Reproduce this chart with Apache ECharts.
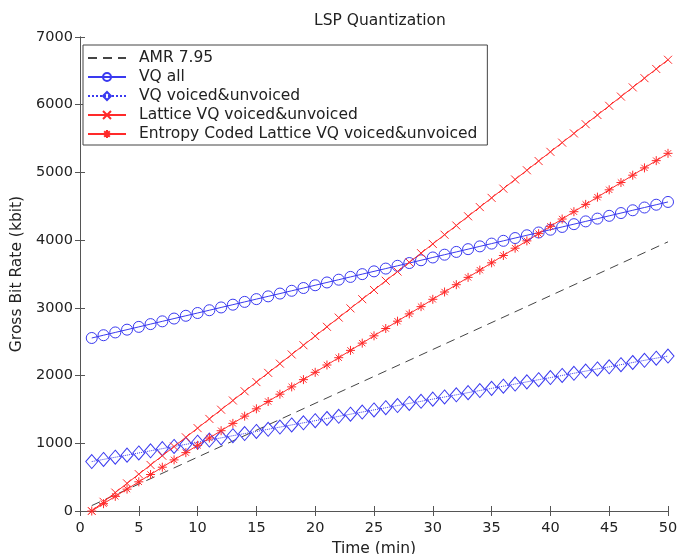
<!DOCTYPE html>
<html>
<head>
<meta charset="utf-8">
<script src="https://cdn.jsdelivr.net/npm/echarts@6/dist/echarts.min.js"></script>
<style>
  html, body { margin: 0; padding: 0; background: #fff; }
  #lspChart { width: 679px; height: 554px; }
</style>
</head>
<body>
<div id="lspChart"></div>
<script>
// 时间轴 (min)
const minutes = [1, 2, 3, 4, 5, 6, 7, 8, 9, 10, 11, 12, 13, 14, 15, 16, 17, 18, 19, 20,
  21, 22, 23, 24, 25, 26, 27, 28, 29, 30, 31, 32, 33, 34, 35, 36, 37, 38, 39, 40,
  41, 42, 43, 44, 45, 46, 47, 48, 49, 50];

// AMR 7.95 reference line (two ends of the dashed line)
const amrMinutes = [1, 50];
const amrRate = [80, 3975];

const vqAll = [2555, 2596, 2637, 2678, 2719, 2760, 2801, 2842, 2883, 2924,
  2965, 3006, 3047, 3088, 3129, 3170, 3211, 3252, 3293, 3334,
  3375, 3416, 3457, 3498, 3539, 3580, 3621, 3662, 3703, 3744,
  3785, 3826, 3867, 3908, 3949, 3990, 4031, 4072, 4113, 4154,
  4195, 4236, 4277, 4318, 4359, 4400, 4441, 4482, 4523, 4564];

const vqVoiced = [730, 762, 794, 825, 857, 889, 921, 953, 984, 1016,
  1048, 1080, 1112, 1143, 1175, 1207, 1239, 1271, 1302, 1334,
  1366, 1398, 1430, 1461, 1493, 1525, 1557, 1589, 1620, 1652,
  1684, 1716, 1748, 1779, 1811, 1843, 1875, 1907, 1939, 1970,
  2002, 2034, 2066, 2098, 2129, 2161, 2193, 2225, 2257, 2288];

const latticeVq = [0, 136, 272, 408, 544, 680, 816, 952, 1088, 1224,
  1360, 1496, 1632, 1768, 1904, 2040, 2176, 2312, 2448, 2584,
  2720, 2856, 2992, 3128, 3264, 3400, 3536, 3672, 3808, 3944,
  4080, 4216, 4352, 4488, 4624, 4760, 4896, 5032, 5168, 5304,
  5440, 5576, 5712, 5848, 5984, 6120, 6256, 6392, 6528, 6664];

const entropyLattice = [0, 108, 216, 323, 431, 539, 647, 755, 862, 970,
  1078, 1186, 1294, 1401, 1509, 1617, 1725, 1833, 1940, 2048,
  2156, 2264, 2372, 2479, 2587, 2695, 2803, 2911, 3018, 3126,
  3234, 3342, 3450, 3557, 3665, 3773, 3881, 3989, 4096, 4204,
  4312, 4420, 4528, 4635, 4743, 4851, 4959, 5067, 5174, 5282];

const seriesNames = [
  "AMR 7.95",
  "VQ all",
  "VQ voiced&unvoiced",
  "Lattice VQ voiced&unvoiced",
  "Entropy Coded Lattice VQ voiced&unvoiced"
];

const blue = "#3a3af0";
const red = "#ff2a2a";
const font = "DejaVu Sans";

function pairs(xs, ys) {
  return xs.map((x, i) => [x, ys[i]]);
}

const crossPath = "path://M0,0L10,10M10,0L0,10";
const starPath = "path://M5,0L5,10M0,5L10,5M1.5,1.5L8.5,8.5M8.5,1.5L1.5,8.5";

const hiddenAxis = {
  axisLabel: { show: false },
  axisTick: { inside: true, length: 5, lineStyle: { color: "#555" } },
  axisLine: { lineStyle: { color: "#555", width: 1 } },
  splitLine: { show: false }
};

const option = {
  backgroundColor: "#fff",
  animation: false,
  textStyle: { fontFamily: font },
  title: {
    text: "LSP Quantization",
    left: 375,
    textAlign: "center",
    top: 8,
    textStyle: { fontSize: 15.5, fontWeight: "normal", color: "#222", fontFamily: font }
  },
  legend: {
    orient: "vertical",
    left: 83,
    top: 45,
    itemWidth: 38,
    itemHeight: 10,
    itemGap: 3,
    padding: [5, 10, 3, 4],
    borderColor: "#444",
    borderWidth: 1,
    backgroundColor: "#fff",
    textStyle: { fontSize: 15.5, color: "#222", fontFamily: font, padding: [0, 0, 0, 8] },
    data: [
      { name: seriesNames[0], itemStyle: { color: "rgba(0,0,0,0)", borderWidth: 0 } },
      seriesNames[1], seriesNames[2], seriesNames[3], seriesNames[4]
    ]
  },
  grid: { left: 80, right: 11, top: 37, bottom: 43, outerBoundsMode: "none" },
  xAxis: [
    {
      type: "value",
      min: 0,
      max: 50,
      interval: 5,
      name: "Time (min)",
      nameLocation: "middle",
      nameGap: 25,
      nameTextStyle: { fontSize: 15.5, color: "#222", fontFamily: font },
      axisLabel: { fontSize: 14.5, color: "#222", margin: 10, fontFamily: font },
      axisTick: { inside: true, length: 5, lineStyle: { color: "#555" } },
      axisLine: { onZero: false, lineStyle: { color: "#555", width: 1 } },
      splitLine: { show: false }
    },
    Object.assign({ type: "value", position: "top", min: 0, max: 50, interval: 5 }, hiddenAxis)
  ],
  yAxis: [
    {
      type: "value",
      min: 0,
      max: 7000,
      interval: 1000,
      name: "Gross Bit Rate (kbit)",
      nameLocation: "middle",
      nameGap: 49,
      nameTextStyle: { fontSize: 15.5, color: "#222", fontFamily: font },
      axisLabel: { fontSize: 14.5, color: "#222", margin: 7, fontFamily: font, formatter: v => String(v) },
      axisTick: { inside: true, length: 5, lineStyle: { color: "#555" } },
      axisLine: { onZero: false, lineStyle: { color: "#555", width: 1 } },
      splitLine: { show: false }
    },
    Object.assign({ type: "value", position: "right", min: 0, max: 7000, interval: 1000 }, hiddenAxis)
  ],
  series: [
    {
      name: seriesNames[0],
      type: "line",
      data: pairs(amrMinutes, amrRate),
      showSymbol: false,
      symbol: "none",
      color: "#444",
      lineStyle: { color: "#444", width: 1, type: [9, 6] }
    },
    {
      name: seriesNames[1],
      type: "line",
      data: pairs(minutes, vqAll),
      symbol: "circle",
      symbolSize: 11,
      color: blue,
      lineStyle: { color: blue, width: 1 },
      itemStyle: { color: "rgba(0,0,0,0)", borderColor: blue, borderWidth: 1 }
    },
    {
      name: seriesNames[2],
      type: "line",
      data: pairs(minutes, vqVoiced),
      symbol: "diamond",
      symbolSize: [12, 14],
      color: blue,
      lineStyle: { color: blue, width: 1, type: "dotted" },
      itemStyle: { color: "rgba(0,0,0,0)", borderColor: blue, borderWidth: 1 }
    },
    {
      name: seriesNames[3],
      type: "line",
      data: pairs(minutes, latticeVq),
      symbol: crossPath,
      symbolSize: 8,
      color: red,
      lineStyle: { color: red, width: 1 },
      itemStyle: { color: "rgba(0,0,0,0)", borderColor: red, borderWidth: 1 }
    },
    {
      name: seriesNames[4],
      type: "line",
      data: pairs(minutes, entropyLattice),
      symbol: starPath,
      symbolSize: 9,
      color: red,
      lineStyle: { color: red, width: 1 },
      itemStyle: { color: "rgba(0,0,0,0)", borderColor: red, borderWidth: 1 }
    }
  ]
};

const chart = echarts.init(document.getElementById("lspChart"));
chart.setOption(option);
</script>
</body>
</html>
